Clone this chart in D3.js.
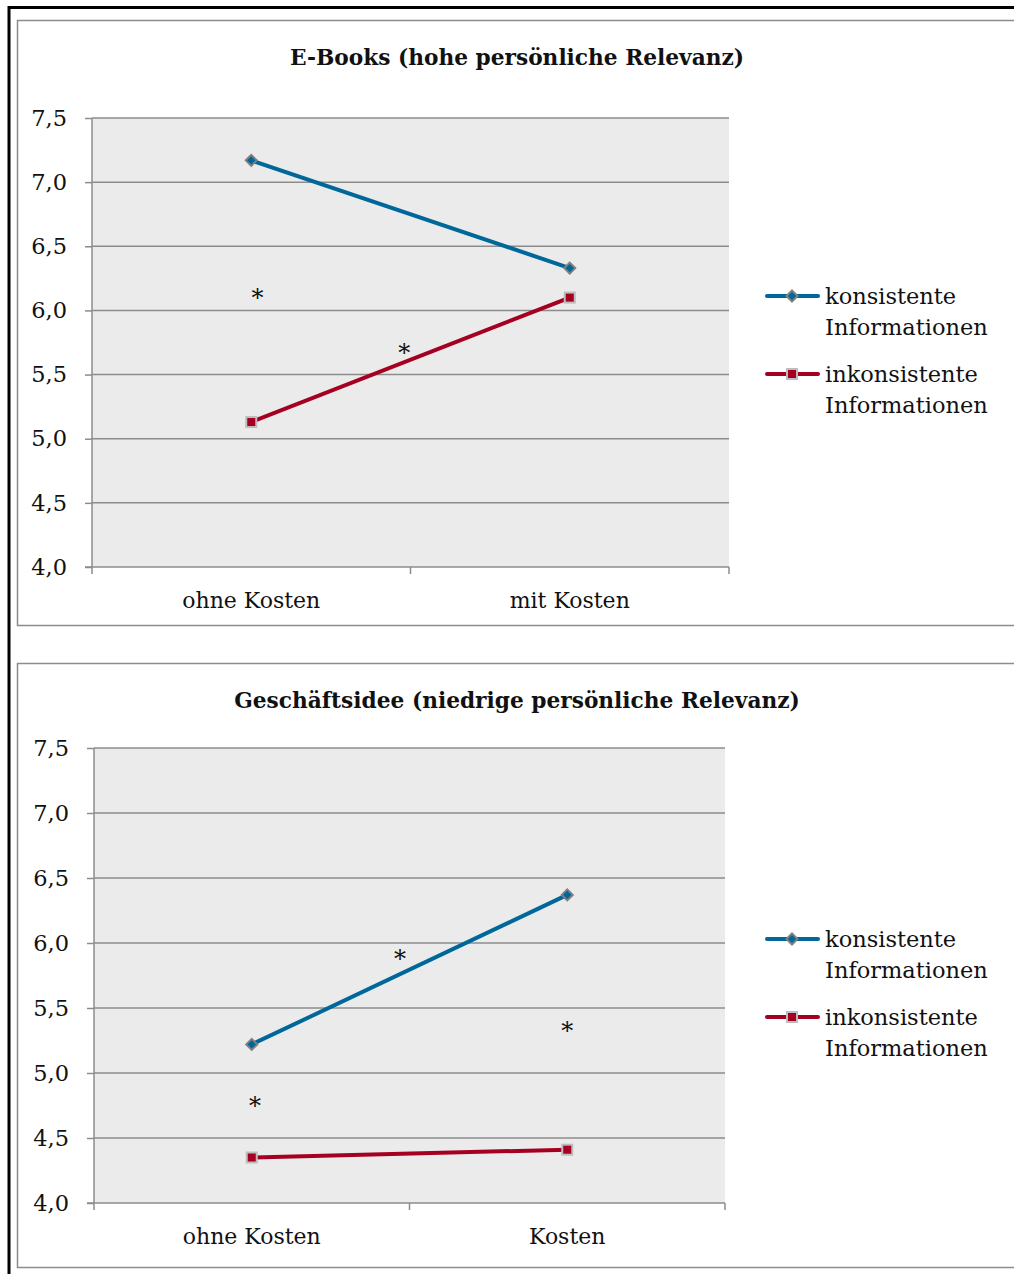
<!DOCTYPE html>
<html>
<head>
<meta charset="utf-8">
<script src="https://cdn.jsdelivr.net/npm/d3@7"></script>
<style>
  html, body { margin: 0; padding: 0; background: #fff; }
  svg { display: block; }
  text { font-family: "DejaVu Serif", serif; fill: #111; }
</style>
</head>
<body>
<svg id="figure" width="1014" height="1274"></svg>
<script>
// Mean ratings per condition, read as category / series / value arrays.
const yTicks = [4.0, 4.5, 5.0, 5.5, 6.0, 6.5, 7.0, 7.5];
const seriesNames = [["konsistente", "Informationen"], ["inkonsistente", "Informationen"]];

const titleEbooks = "E-Books (hohe persönliche Relevanz)";
const categoriesEbooks = ["ohne Kosten", "mit Kosten"];
const konsistentEbooks = [7.17, 6.33];
const inkonsistentEbooks = [5.13, 6.10];
// significance markers: [category position, value]
const starsEbooks = [[0.02, 6.12], [0.48, 5.69]];

const titleIdee = "Geschäftsidee (niedrige persönliche Relevanz)";
const categoriesIdee = ["ohne Kosten", "Kosten"];
const konsistentIdee = [5.22, 6.37];
const inkonsistentIdee = [4.35, 4.41];
const starsIdee = [[0.47, 5.90], [1.0, 5.35], [0.01, 4.77]];

const BLUE = "#00679b";
const RED = "#a50021";
const GRID = "#8c8c8c";

const de = d3.formatLocale({ decimal: ",", thousands: ".", grouping: [3], currency: ["", " €"] });
const fmt = de.format(".1f");

const svg = d3.select("#figure");

// outer page border
svg.append("path")
  .attr("d", "M9,1280 V7.5 H1020")
  .attr("fill", "none").attr("stroke", "#000").attr("stroke-width", 3);

function drawChart(cfg) {
  const g = svg.append("g");

  // chart frame
  g.append("rect")
    .attr("x", 17.5).attr("y", cfg.frameTop + 0.5)
    .attr("width", 1100).attr("height", cfg.frameHeight)
    .attr("fill", "#fff").attr("stroke", "#8c8c8c").attr("stroke-width", 1.5);

  const x = d3.scaleLinear().domain([0, cfg.categories.length]).range([cfg.left, cfg.right]);
  const y = d3.scaleLinear().domain([4, 7.5]).range([cfg.bottom, cfg.top]);

  // plot background
  g.append("rect")
    .attr("x", cfg.left).attr("y", cfg.top)
    .attr("width", cfg.right - cfg.left).attr("height", cfg.bottom - cfg.top)
    .attr("fill", "#ebebeb");

  // horizontal gridlines
  g.append("g").selectAll("line").data(yTicks.slice(1)).join("line")
    .attr("x1", cfg.left).attr("x2", cfg.right)
    .attr("y1", d => y(d)).attr("y2", d => y(d))
    .attr("stroke", GRID).attr("stroke-width", 1.5);

  // value axis
  const yAxis = d3.axisLeft(y).tickValues(yTicks).tickFormat(fmt).tickSize(7).tickPadding(18);
  const ya = g.append("g").attr("transform", `translate(${cfg.left},0)`).call(yAxis);
  ya.select(".domain").attr("stroke", GRID).attr("stroke-width", 1.5).attr("d", `M0,${cfg.top}V${cfg.bottom}`);
  ya.selectAll(".tick line").attr("stroke", GRID).attr("stroke-width", 1.5);
  ya.selectAll(".tick text").attr("font-family", "Liberation Serif").attr("font-size", 22.5).attr("fill", "#111");

  // category axis with boundary ticks
  const xa = g.append("g").attr("transform", `translate(0,${cfg.bottom})`);
  xa.append("line").attr("x1", cfg.left - 7).attr("x2", cfg.right)
    .attr("stroke", GRID).attr("stroke-width", 1.5);
  xa.selectAll(".bt").data(d3.range(cfg.categories.length + 1)).join("line")
    .attr("class", "bt")
    .attr("x1", d => x(d)).attr("x2", d => x(d))
    .attr("y1", 0).attr("y2", 7)
    .attr("stroke", GRID).attr("stroke-width", 1.5);
  xa.selectAll(".cl").data(cfg.categories).join("text")
    .attr("class", "cl")
    .attr("x", (d, i) => x(i + 0.5)).attr("y", 41)
    .attr("text-anchor", "middle").attr("font-size", 22)
    .text(d => d);

  // title
  g.append("text")
    .attr("x", 517).attr("y", cfg.titleY)
    .attr("text-anchor", "middle").attr("font-size", 21.7).attr("font-weight", "bold")
    .text(cfg.title);

  const line = d3.line().x((d, i) => x(i + 0.5)).y(d => y(d));

  const series = [
    { values: cfg.konsistent, color: BLUE, marker: "diamond" },
    { values: cfg.inkonsistent, color: RED, marker: "square" }
  ];

  function marker(sel, s) {
    if (s.marker === "diamond") {
      sel.append("path").attr("d", "M0,-5.5L5.5,0L0,5.5L-5.5,0Z")
        .attr("fill", s.color).attr("stroke", "#7f7f7f").attr("stroke-width", 2);
    } else {
      sel.append("rect").attr("x", -5).attr("y", -5).attr("width", 10).attr("height", 10)
        .attr("fill", s.color).attr("stroke", "#bdbdbd").attr("stroke-width", 2);
    }
  }

  series.forEach(s => {
    g.append("path").datum(s.values)
      .attr("d", line).attr("fill", "none")
      .attr("stroke", s.color).attr("stroke-width", 4).attr("stroke-linecap", "round");
    s.values.forEach((v, i) => {
      const m = g.append("g").attr("transform", `translate(${x(i + 0.5)},${y(v)})`);
      marker(m, s);
    });
  });

  // significance asterisks
  g.selectAll(".star").data(cfg.stars).join("text")
    .attr("class", "star")
    .attr("x", d => x(d[0] + 0.5)).attr("y", d => y(d[1]) + 11)
    .attr("text-anchor", "middle").attr("font-size", 24)
    .text("*");

  // legend
  series.forEach((s, k) => {
    const ly = cfg.legendY + k * 78;
    g.append("line").attr("x1", 767).attr("x2", 818).attr("y1", ly).attr("y2", ly)
      .attr("stroke", s.color).attr("stroke-width", 4).attr("stroke-linecap", "round");
    const m = g.append("g").attr("transform", `translate(792,${ly})`);
    marker(m, s);
    const t = g.append("text").attr("x", 825).attr("y", ly + 8).attr("font-size", 22.5);
    seriesNames[k].forEach((w, j) => {
      t.append("tspan").attr("x", 825).attr("dy", j === 0 ? 0 : 31).text(w);
    });
  });
}

drawChart({
  frameTop: 20, frameHeight: 605,
  left: 92, right: 729, top: 118, bottom: 567,
  titleY: 65, legendY: 296,
  title: titleEbooks, categories: categoriesEbooks,
  konsistent: konsistentEbooks, inkonsistent: inkonsistentEbooks, stars: starsEbooks
});

drawChart({
  frameTop: 663, frameHeight: 604,
  left: 94, right: 725, top: 748, bottom: 1203,
  titleY: 708, legendY: 939,
  title: titleIdee, categories: categoriesIdee,
  konsistent: konsistentIdee, inkonsistent: inkonsistentIdee, stars: starsIdee
});
</script>
</body>
</html>
